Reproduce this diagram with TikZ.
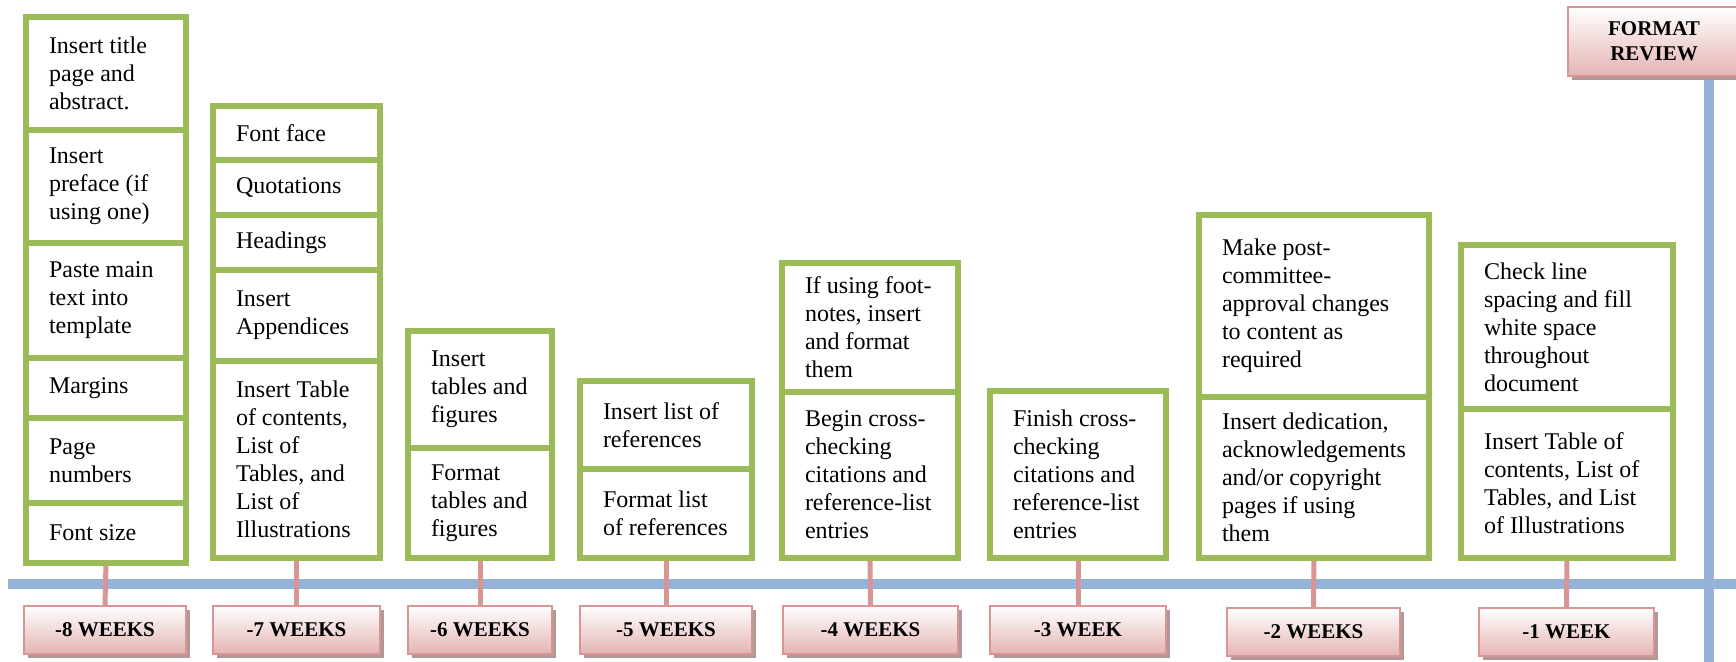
\documentclass[tikz,border=0pt]{standalone}
\usepackage{fontspec}
\setmainfont{Liberation Serif}
\usetikzlibrary{positioning,shadows,backgrounds}
\definecolor{taskgreen}{HTML}{9BBB59}
\definecolor{lineblue}{HTML}{95B3D7}
\definecolor{weekpink}{HTML}{D99594}
\definecolor{weekfill}{HTML}{E4B4B3}
\definecolor{weekshadow}{HTML}{B39797}
\newcommand\cellfont{\fontsize{12pt}{14pt}\selectfont}
\newcommand\weekfont{\fontsize{10.5pt}{12.5pt}\selectfont\bfseries}

\begin{document}
\begin{tikzpicture}[
  x=0.5pt, y=-0.5pt,
  cell/.style={draw=taskgreen, line width=3.2pt, fill=white, outer sep=0pt, inner xsep=11.5pt, inner ysep=2pt, text width=#1, align=flush left, font=\cellfont},
  week/.style={draw=weekpink, line width=1.2pt, top color=white, bottom color=weekfill, minimum width=#1, minimum height=24pt, inner sep=0pt, align=center, font=\weekfont, drop shadow={shadow xshift=1.8pt, shadow yshift=-1.8pt, fill=weekshadow, opacity=1}},
  link/.style={draw=weekpink, line width=2.5pt},
  timeline/.style={draw=lineblue, line width=5pt}
]
\useasboundingbox (0,0) rectangle (1736,662);

% -8 weeks
\node[cell=57pt, minimum height=56.5pt, anchor=north] (c8a) at (106,17) {Insert title\\page and\\abstract.};
\node[cell=57pt, minimum height=56.5pt, below=0pt of c8a] (c8b) {Insert\\preface (if\\using one)};
\node[cell=57pt, minimum height=57.5pt, below=0pt of c8b] (c8c) {Paste main\\text into\\template};
\node[cell=57pt, minimum height=30pt, below=0pt of c8c] (c8d) {Margins};
\node[cell=57pt, minimum height=42.5pt, below=0pt of c8d] (c8e) {Page\\numbers};
\node[cell=57pt, minimum height=30pt, below=0pt of c8e] (c8f) {Font size};

% -7 weeks
\node[cell=60.5pt, minimum height=27pt, anchor=north] (c7a) at (296.5,106) {Font face};
\node[cell=60.5pt, minimum height=27.5pt, below=0pt of c7a] (c7b) {Quotations};
\node[cell=60.5pt, minimum height=27.5pt, below=0pt of c7b] (c7c) {Headings};
\node[cell=60.5pt, minimum height=45.5pt, below=0pt of c7c] (c7d) {Insert\\Appendices};
\node[cell=60.5pt, minimum height=98.5pt, below=0pt of c7d] (c7e) {Insert Table\\of contents,\\List of\\Tables, and\\List of\\Illustrations};

% -6 weeks
\node[cell=49pt, minimum height=58.5pt, anchor=north] (c6a) at (480,331) {Insert\\tables and\\figures};
\node[cell=49pt, minimum height=55pt, below=0pt of c6a] (c6b) {Format\\tables and\\figures};

% -5 weeks
\node[cell=63pt, minimum height=44pt, anchor=north] (c5a) at (666,381) {Insert list of\\references};
\node[cell=63pt, minimum height=44.5pt, below=0pt of c5a] (c5b) {Format list\\of references};

% -4 weeks
\node[cell=65pt, minimum height=64.5pt, anchor=north] (c4a) at (870,263) {If using foot-\\notes, insert\\and format\\them};
\node[cell=65pt, minimum height=83pt, below=0pt of c4a] (c4b) {Begin cross-\\checking\\citations and\\reference-list\\entries};

% -3 week
\node[cell=65pt, minimum height=83.5pt, anchor=north] (c3a) at (1078,391) {Finish cross-\\checking\\citations and\\reference-list\\entries};

% -2 weeks
\node[cell=92pt, minimum height=91pt, anchor=north] (c2a) at (1314,215) {Make post-\\committee-\\approval changes\\to content as\\required};
\node[cell=92pt, minimum height=80.5pt, below=0pt of c2a] (c2b) {Insert dedication,\\acknowledgements\\and/or copyright\\pages if using\\them};

% -1 week
\node[cell=83pt, minimum height=82pt, anchor=north] (c1a) at (1567,245) {Check line\\spacing and fill\\white space\\throughout\\document};
\node[cell=83pt, minimum height=74.5pt, below=0pt of c1a] (c1b) {Insert Table of\\contents, List of\\Tables, and List\\of Illustrations};

% week labels
\node[week=81pt] (wk8) at (105,630) {-8 WEEKS};
\node[week=83.5pt] (wk7) at (296.5,630) {-7 WEEKS};
\node[week=72pt] (wk6) at (480,630) {-6 WEEKS};
\node[week=86pt] (wk5) at (666,630) {-5 WEEKS};
\node[week=87.5pt] (wk4) at (870.5,630) {-4 WEEKS};
\node[week=88pt] (wk3) at (1078,630) {-3 WEEK};
\node[week=86.5pt] (wk2) at (1313.5,632) {-2 WEEKS};
\node[week=87.5pt] (wk1) at (1566.5,632) {-1 WEEK};
\node[week=86pt, minimum height=34.5pt] (review) at (1654,41.5) {FORMAT\\REVIEW};

\coordinate (tl) at (8,584);
\coordinate (tr) at (1740,584);
\coordinate (vb) at (1709,662);

\begin{scope}[on background layer]
\draw[timeline] (tl) -- (tr);
\draw[timeline] (review.south -| vb) -- (vb);
\draw[link] (c8f.south) -- (wk8.north);
\draw[link] (c7e.south) -- (wk7.north);
\draw[link] (c6b.south) -- (wk6.north);
\draw[link] (c5b.south) -- (wk5.north);
\draw[link] (c4b.south) -- (wk4.north);
\draw[link] (c3a.south) -- (wk3.north);
\draw[link] (c2b.south) -- (wk2.north);
\draw[link] (c1b.south) -- (wk1.north);
\end{scope}
\end{tikzpicture}
\end{document}
